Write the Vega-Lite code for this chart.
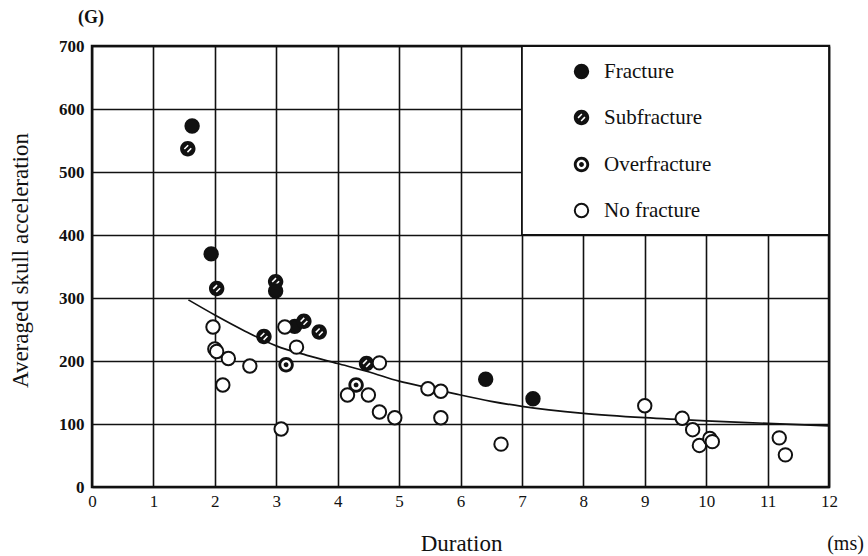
{
  "$schema": "https://vega.github.io/schema/vega-lite/v6.json",
  "width": 737,
  "height": 441,
  "autosize": "none",
  "padding": {"left": 92, "top": 46, "right": 39, "bottom": 69},
  "background": "white",
  "title": {"text": "(G)", "anchor": "start", "frame": "group", "dx": -14, "offset": 10, "font": "Liberation Serif", "fontSize": 18, "fontWeight": "bold", "color": "#111"},
  "config": {
    "view": {"stroke": "#111", "strokeWidth": 2.5},
    "axis": {"labelColor": "#111", "titleColor": "#111", "domain": false, "ticks": false, "gridColor": "#111", "gridOpacity": 1, "gridWidth": 1.6}
  },
  "datasets": {
    "obs": [
      {"d": 1.63, "g": 573, "type": "Fracture"},
      {"d": 1.94, "g": 370, "type": "Fracture"},
      {"d": 2.99, "g": 311, "type": "Fracture"},
      {"d": 3.3, "g": 255, "type": "Fracture"},
      {"d": 6.41, "g": 171, "type": "Fracture"},
      {"d": 7.18, "g": 140, "type": "Fracture"},
      {"d": 1.56, "g": 537, "type": "Subfracture"},
      {"d": 2.03, "g": 315, "type": "Subfracture"},
      {"d": 2.99, "g": 326, "type": "Subfracture"},
      {"d": 2.8, "g": 239, "type": "Subfracture"},
      {"d": 3.45, "g": 263, "type": "Subfracture"},
      {"d": 3.7, "g": 246, "type": "Subfracture"},
      {"d": 4.47, "g": 196, "type": "Subfracture"},
      {"d": 3.16, "g": 194, "type": "Overfracture"},
      {"d": 4.3, "g": 162, "type": "Overfracture"},
      {"d": 1.97, "g": 254, "type": "No fracture"},
      {"d": 2.0, "g": 219, "type": "No fracture"},
      {"d": 2.03, "g": 215, "type": "No fracture"},
      {"d": 2.22, "g": 204, "type": "No fracture"},
      {"d": 2.57, "g": 192, "type": "No fracture"},
      {"d": 2.13, "g": 162, "type": "No fracture"},
      {"d": 3.14, "g": 254, "type": "No fracture"},
      {"d": 3.33, "g": 222, "type": "No fracture"},
      {"d": 3.08, "g": 92, "type": "No fracture"},
      {"d": 4.16, "g": 146, "type": "No fracture"},
      {"d": 4.5, "g": 146, "type": "No fracture"},
      {"d": 4.68, "g": 119, "type": "No fracture"},
      {"d": 4.68, "g": 197, "type": "No fracture"},
      {"d": 4.93, "g": 110, "type": "No fracture"},
      {"d": 5.47, "g": 156, "type": "No fracture"},
      {"d": 5.68, "g": 152, "type": "No fracture"},
      {"d": 5.68, "g": 110, "type": "No fracture"},
      {"d": 6.66, "g": 68, "type": "No fracture"},
      {"d": 9.0, "g": 129, "type": "No fracture"},
      {"d": 9.61, "g": 109, "type": "No fracture"},
      {"d": 9.78, "g": 91, "type": "No fracture"},
      {"d": 9.89, "g": 66, "type": "No fracture"},
      {"d": 10.06, "g": 77, "type": "No fracture"},
      {"d": 10.1, "g": 72, "type": "No fracture"},
      {"d": 11.19, "g": 78, "type": "No fracture"},
      {"d": 11.29, "g": 51, "type": "No fracture"}
    ],
    "curve": [
      {"d": 1.57, "g": 297}, {"d": 2, "g": 273}, {"d": 2.5, "g": 247}, {"d": 3, "g": 224},
      {"d": 3.5, "g": 209}, {"d": 4, "g": 196}, {"d": 4.5, "g": 183}, {"d": 5, "g": 168},
      {"d": 5.5, "g": 157}, {"d": 6, "g": 146}, {"d": 6.5, "g": 136}, {"d": 7, "g": 128},
      {"d": 8, "g": 117}, {"d": 9, "g": 110}, {"d": 10, "g": 105}, {"d": 11, "g": 101}, {"d": 12, "g": 97}
    ],
    "box": [{"x1": 7, "x2": 12, "y1": 400, "y2": 700}]
  },
  "resolve": {"axis": {"y": "independent"}},
  "layer": [
    {
      "data": {"name": "box"},
      "mark": {"type": "rect", "fill": "white", "stroke": "#111", "strokeWidth": 1.8},
      "encoding": {
        "x": {"field": "x1", "type": "quantitative", "scale": {"domain": [0, 12], "nice": false},
          "axis": {"values": [0,1,2,3,4,5,6,7,8,9,10,11,12], "format": "d", "grid": true, "labelFont": "Liberation Serif", "labelFontSize": 17, "labelPadding": 6, "labelFlush": false,
            "title": "Duration", "titleFont": "Liberation Serif", "titleFontSize": 23, "titleFontWeight": "normal", "titleX": 369, "titleY": 56, "titleBaseline": "middle"}},
        "x2": {"field": "x2"},
        "y": {"field": "y1", "type": "quantitative", "scale": {"domain": [0, 700], "nice": false},
          "axis": {"orient": "left", "values": [0,100,200,300,400,500,600,700], "grid": true, "labelFont": "Liberation Serif", "labelFontSize": 17, "labelFontWeight": "bold", "labelPadding": 8,
            "title": "Averaged skull acceleration", "titleFont": "Liberation Serif", "titleFontSize": 23, "titleFontWeight": "normal", "titleX": -72, "titleY": 214, "titleAlign": "center", "titleBaseline": "middle"}},
        "y2": {"field": "y2"}
      }
    },
    {
      "data": {"name": "curve"},
      "mark": {"type": "line", "color": "#111", "strokeWidth": 1.7, "interpolate": "monotone"},
      "encoding": {
        "x": {"field": "d", "type": "quantitative", "scale": {"domain": [0, 12], "nice": false}},
        "y": {"field": "g", "type": "quantitative", "scale": {"domain": [0, 700], "nice": false},
          "axis": {"orient": "right", "labels": false, "grid": false, "title": "(ms)", "titleAngle": 0, "titleFont": "Liberation Serif", "titleFontSize": 20, "titleFontWeight": "normal", "titleX": 16, "titleY": 497, "titleAlign": "center", "titleBaseline": "middle"}}
      }
    },
    {
      "data": {"name": "obs"},
      "mark": {"type": "point", "shape": "circle", "filled": true, "fill": "white", "opacity": 1, "size": 180},
      "encoding": {
        "x": {"field": "d", "type": "quantitative", "scale": {"domain": [0, 12], "nice": false}},
        "y": {"field": "g", "type": "quantitative", "scale": {"domain": [0, 700], "nice": false}, "axis": null}
      }
    },
    {
      "data": {"name": "obs"},
      "mark": {"type": "point", "filled": true, "opacity": 1, "size": 180, "strokeWidth": 2},
      "encoding": {
        "x": {"field": "d", "type": "quantitative", "scale": {"domain": [0, 12], "nice": false}},
        "y": {"field": "g", "type": "quantitative", "scale": {"domain": [0, 700], "nice": false}, "axis": null},
        "shape": {"field": "type", "type": "nominal",
          "scale": {"domain": ["Fracture", "Subfracture", "Overfracture", "No fracture"],
            "range": ["circle",
              "M-1.15,0A1.15,1.15,0,1,0,1.15,0A1.15,1.15,0,1,0,-1.15,0ZM-0.596,-0.027L-0.027,-0.596L0.135,-0.433L-0.433,0.135ZM-0.135,0.433L0.433,-0.135L0.596,0.027L0.027,0.596Z",
              "M-1.15,0A1.15,1.15,0,1,0,1.15,0A1.15,1.15,0,1,0,-1.15,0ZM-0.72,0A0.72,0.72,0,1,1,0.72,0A0.72,0.72,0,1,1,-0.72,0ZM-0.36,0A0.36,0.36,0,1,0,0.36,0A0.36,0.36,0,1,0,-0.36,0Z",
              "circle"]},
          "legend": {"title": null, "orient": "none", "legendX": 479, "legendY": 15, "padding": 0, "rowPadding": 22, "labelFont": "Liberation Serif", "labelFontSize": 21, "labelColor": "#111", "labelOffset": 12, "symbolSize": 180, "symbolStrokeWidth": 2, "symbolOpacity": 1}},
        "fill": {"field": "type", "type": "nominal",
          "scale": {"domain": ["Fracture", "Subfracture", "Overfracture", "No fracture"], "range": ["#111", "#111", "#111", "white"]},
          "legend": {"title": null, "orient": "none", "legendX": 479, "legendY": 15, "padding": 0, "rowPadding": 22, "labelFont": "Liberation Serif", "labelFontSize": 21, "labelColor": "#111", "labelOffset": 12, "symbolSize": 180, "symbolStrokeWidth": 2, "symbolOpacity": 1}},
        "stroke": {"field": "type", "type": "nominal",
          "scale": {"domain": ["Fracture", "Subfracture", "Overfracture", "No fracture"], "range": ["#111", "transparent", "transparent", "#111"]},
          "legend": {"title": null, "orient": "none", "legendX": 479, "legendY": 15, "padding": 0, "rowPadding": 22, "labelFont": "Liberation Serif", "labelFontSize": 21, "labelColor": "#111", "labelOffset": 12, "symbolSize": 180, "symbolStrokeWidth": 2, "symbolOpacity": 1}}
      }
    }
  ]
}
